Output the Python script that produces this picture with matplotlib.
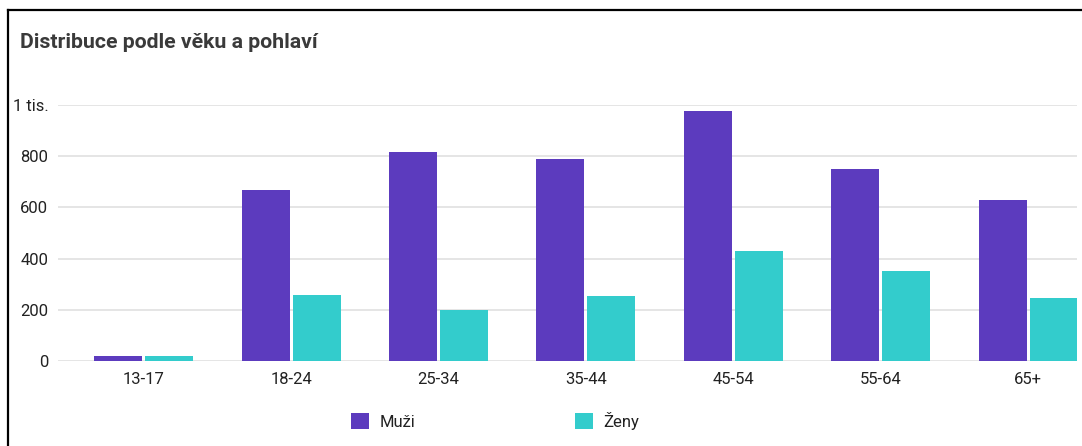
import matplotlib.pyplot as plt
import numpy as np
from matplotlib.lines import Line2D
from matplotlib.patches import Patch

plt.rcParams['font.family'] = ['Roboto', 'DejaVu Sans']

age_groups = ['13-17', '18-24', '25-34', '35-44', '45-54', '55-64', '65+']
muzi = [18, 667, 818, 790, 978, 750, 629]
zeny = [18, 256, 201, 254, 430, 352, 246]
y_ticks = [0, 200, 400, 600, 800, 1000]
y_tick_labels = ['0', '200', '400', '600', '800', '1 tis.']

purple = '#5c3bbe'
teal = '#33cccc'

W, H = 1082, 446
fig = plt.figure(figsize=(W / 100, H / 100), dpi=100)
ax = fig.add_axes([58 / W, 85 / H, (1077 - 58) / W, (361 - 105) / H])

index = np.arange(len(age_groups))
bar_width = 0.326
offset = 0.173

ax.bar(index - offset, muzi, bar_width, color=purple, zorder=3)
ax.bar(index + offset, zeny, bar_width, color=teal, zorder=3)

ax.set_xlim(-0.581, 6.332)
ax.set_ylim(0, 1000)
ax.set_yticks(y_ticks)
ax.set_yticklabels(y_tick_labels)
ax.set_xticks(index)
ax.set_xticklabels(age_groups)
ax.tick_params(axis='both', length=0, labelsize=12, colors='#222222')
ax.tick_params(axis='y', pad=7)
ax.tick_params(axis='x', pad=8)
ax.grid(axis='y', color='#e0e0e0', linewidth=1.2, zorder=0)
for side in ax.spines.values():
    side.set_visible(False)

fig.text(20 / W, 1 - 42 / H, 'Distribuce podle věku a pohlaví', fontsize=15.3,
         fontweight='bold', color='#3a3a3a', va='center', ha='left')

handles = [Patch(facecolor=purple, label='Muži'), Patch(facecolor=teal, label='Ženy')]
fig.legend(handles=handles, loc='center left', bbox_to_anchor=(351 / W, 1 - 421 / H),
           ncol=2, frameon=False, fontsize=12, handlelength=1.1, handleheight=1.1,
           handletextpad=0.6, columnspacing=9.6, borderpad=0, borderaxespad=0,
           labelcolor='#222222')

# outer frame on the left and top
fig.add_artist(Line2D([8 / W, 8 / W], [0, 1 - 10 / H], color='black', linewidth=1.6))
fig.add_artist(Line2D([8 / W, 1], [1 - 10 / H, 1 - 10 / H], color='black', linewidth=1.6))

fig.savefig('out.png', dpi=100)
